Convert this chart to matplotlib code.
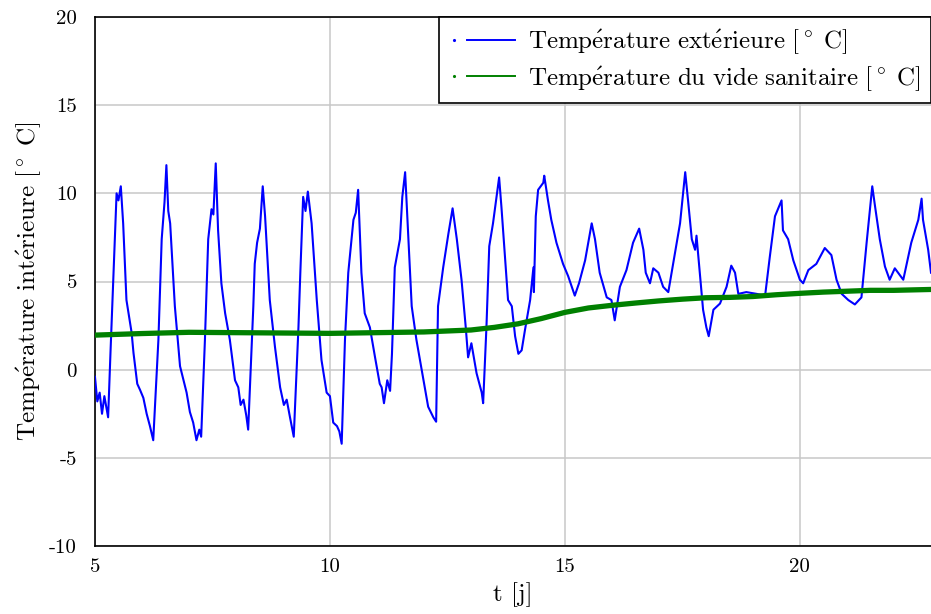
import matplotlib
matplotlib.use("Agg")
import matplotlib.pyplot as plt
from matplotlib.lines import Line2D
from matplotlib.legend_handler import HandlerBase

# temperature exterieure
t_ext = [5.00, 5.05, 5.10, 5.15, 5.20, 5.28, 5.33, 5.46, 5.50, 5.55, 5.60, 5.67, 5.78, 5.82,
         5.90, 5.96, 6.03, 6.10, 6.17, 6.24, 6.35, 6.42, 6.48, 6.52, 6.56, 6.60, 6.70, 6.81,
         6.95, 7.02, 7.09, 7.16, 7.22, 7.26, 7.34, 7.41, 7.48, 7.52, 7.57, 7.62, 7.69, 7.77,
         7.87, 7.98, 8.05, 8.10, 8.16, 8.22, 8.26, 8.37, 8.40, 8.45, 8.51, 8.57, 8.62, 8.72,
         8.83, 8.94, 9.02, 9.08, 9.15, 9.23, 9.33, 9.37, 9.43, 9.48, 9.53, 9.61, 9.72, 9.82,
         9.93, 10.00, 10.07, 10.15, 10.20, 10.25, 10.32, 10.39, 10.46, 10.50, 10.55, 10.60,
         10.67, 10.74, 10.85, 10.96, 11.06, 11.10, 11.15, 11.22, 11.28, 11.32, 11.38, 11.49,
         11.54, 11.60, 11.67, 11.74, 11.84, 11.99, 12.09, 12.20, 12.26, 12.30, 12.41, 12.52,
         12.61, 12.70, 12.80, 12.89, 12.94, 13.01, 13.12, 13.23, 13.26, 13.33, 13.39, 13.47,
         13.60, 13.65, 13.72, 13.79, 13.87, 13.94, 14.01, 14.08, 14.15, 14.26, 14.33, 14.34,
         14.38, 14.43, 14.54, 14.56, 14.64, 14.71, 14.82, 14.96, 15.07, 15.21, 15.30, 15.43,
         15.57, 15.64, 15.74, 15.89, 15.99, 16.06, 16.17, 16.31, 16.45, 16.58, 16.67, 16.72,
         16.81, 16.88, 16.99, 17.09, 17.20, 17.34, 17.45, 17.56, 17.62, 17.70, 17.77, 17.80,
         17.87, 17.94, 18.01, 18.06, 18.16, 18.30, 18.44, 18.54, 18.62, 18.69, 18.86, 19.08,
         19.26, 19.36, 19.47, 19.61, 19.64, 19.75, 19.86, 20.00, 20.07, 20.18, 20.35, 20.53,
         20.67, 20.78, 20.89, 21.03, 21.17, 21.31, 21.42, 21.54, 21.60, 21.70, 21.81, 21.91,
         22.02, 22.20, 22.37, 22.52, 22.59, 22.62, 22.73, 22.79]
T_ext = [-0.4, -1.8, -1.3, -2.5, -1.5, -2.7, 0.95, 10.0, 9.6, 10.4, 8.3, 3.95, 2.1, 0.95,
         -0.8, -1.15, -1.6, -2.5, -3.2, -4.0, 1.7, 7.4, 9.5, 11.6, 9.0, 8.3, 3.6, 0.2,
         -1.3, -2.4, -3.0, -4.0, -3.4, -3.8, 1.7, 7.4, 9.1, 8.8, 11.7, 7.9, 4.9, 3.2,
         1.7, -0.6, -1.0, -2.0, -1.7, -2.6, -3.4, 3.6, 6.0, 7.2, 8.0, 10.4, 8.7, 3.95,
         1.3, -1.0, -2.0, -1.7, -2.7, -3.8, 2.4, 5.5, 9.8, 9.0, 10.1, 8.3, 3.95, 0.55,
         -1.3, -1.5, -3.0, -3.2, -3.5, -4.2, 1.7, 5.5, 7.4, 8.5, 8.9, 10.2,
         5.5, 3.2, 2.4, 0.7, -0.8, -1.0, -1.9, -0.6, -1.2, 0.9, 5.8, 7.4,
         9.8, 11.2, 7.4, 3.6, 1.7, -0.6, -2.1, -2.7, -2.95, 3.6, 5.8, 7.7,
         9.15, 7.4, 5.1, 2.4, 0.7, 1.5, -0.2, -1.3, -1.9, 2.4, 7.0, 8.3,
         10.9, 9.2, 6.6, 3.95, 3.6, 1.9, 0.9, 1.1, 2.25, 3.95, 5.8, 4.4,
         8.7, 10.2, 10.6, 11.0, 9.6, 8.5, 7.2, 6.0, 5.3, 4.2, 4.9, 6.2,
         8.3, 7.4, 5.5, 4.1, 3.95, 2.8, 4.7, 5.65, 7.2, 8.0, 6.8, 5.5,
         4.9, 5.75, 5.5, 4.7, 4.4, 6.6, 8.3, 11.2, 9.6, 7.4, 6.8, 7.6,
         5.5, 3.4, 2.4, 1.9, 3.4, 3.75, 4.7, 5.9, 5.5, 4.3, 4.4, 4.3,
         4.2, 6.4, 8.7, 9.6, 7.9, 7.4, 6.2, 5.1, 4.9, 5.65, 6.0, 6.9,
         6.5, 5.1, 4.3, 3.95, 3.7, 4.1, 7.2, 10.4, 9.25, 7.4, 5.85, 5.1,
         5.75, 5.1, 7.2, 8.5, 9.7, 8.5, 6.8, 5.5]

# temperature du vide sanitaire
t_vs = [5, 6, 7, 8, 9, 10, 11, 12, 13, 13.5, 14, 14.5, 15, 15.5, 16, 16.5, 17, 17.5,
        18, 18.5, 19, 19.5, 20, 20.5, 21, 21.5, 22, 22.79]
T_vs = [1.96, 2.05, 2.12, 2.1, 2.08, 2.06, 2.1, 2.14, 2.25, 2.4, 2.6, 2.9, 3.25, 3.5,
        3.65, 3.78, 3.9, 4.0, 4.08, 4.1, 4.15, 4.25, 4.33, 4.4, 4.45, 4.5, 4.5, 4.55]

y_ticks = [-10, -5, 0, 5, 10, 15, 20]
x_ticks = [5, 10, 15, 20]

# textes en mathtext (police Computer Modern)
lab_y = r'$\mathrm{Temp\acute{e}rature\ int\acute{e}rieure\ [^\circ\ C]}$'
lab_ext = r'$\mathrm{Temp\acute{e}rature\ ext\acute{e}rieure\ [^\circ\ C]}$'
lab_vs = r'$\mathrm{Temp\acute{e}rature\ du\ vide\ sanitaire\ [^\circ\ C]}$'


class PointTrait(HandlerBase):
    # un point a gauche puis un trait, comme dans la legende d'origine
    def create_artists(self, legend, orig_handle, xdescent, ydescent,
                       width, height, fontsize, trans):
        c = orig_handle.get_color()
        y = height / 2 - ydescent
        x0 = -xdescent
        dot = Line2D([x0 + 0.06 * width], [y], color=c, marker='.', ms=2.5,
                     ls='none', transform=trans)
        trait = Line2D([x0 + 0.26 * width, x0 + width], [y, y], color=c,
                       lw=1.4, transform=trans)
        return [dot, trait]


plt.rcParams['font.family'] = ['cmr10', 'DejaVu Serif']
plt.rcParams['mathtext.fontset'] = 'cm'
plt.rcParams['axes.unicode_minus'] = False

fig = plt.figure(figsize=(9.31, 6.14), dpi=100)
ax = fig.add_axes([0.102, 0.1107, 0.898, 0.8616])

l1, = ax.plot(t_ext, T_ext, color='#0000ff', lw=1.5, zorder=3)
l2, = ax.plot(t_vs, T_vs, color='#008000', lw=3.8, zorder=4)

ax.set_xlim(5, 22.79)
ax.set_ylim(-10, 20)
ax.set_xticks(x_ticks)
ax.set_xticklabels([str(v) for v in x_ticks])
ax.set_yticks(y_ticks)
ax.set_yticklabels([str(v) for v in y_ticks])
ax.tick_params(length=0, labelsize=15)
ax.tick_params(axis='y', pad=13)
ax.tick_params(axis='x', pad=9)
ax.grid(True, color='#c8c8c8', lw=1.1)
ax.set_axisbelow(True)
ax.spines['right'].set_visible(False)
for s in ['left', 'top', 'bottom']:
    ax.spines[s].set_linewidth(1.2)

ax.set_xlabel('t [j]', fontsize=18, labelpad=4)
ax.set_ylabel(lab_y, fontsize=18.2, labelpad=4)

leg = ax.legend([l1, l2], [lab_ext, lab_vs],
                handler_map={Line2D: PointTrait()},
                loc='upper right', borderaxespad=0, fontsize=18, fancybox=False,
                framealpha=1, edgecolor='black', handlelength=2.6,
                handletextpad=0.52, labelspacing=0.3, borderpad=0.42)
leg.get_frame().set_linewidth(1.2)

fig.savefig('out.png', dpi=100)
